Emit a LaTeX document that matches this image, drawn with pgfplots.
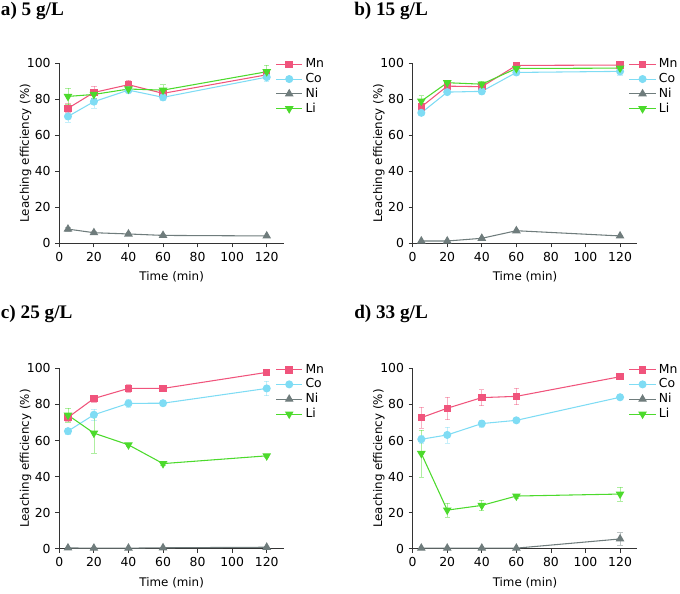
\documentclass[border=0pt]{standalone}
\usepackage{pgfplots}
\pgfplotsset{compat=1.18}
\usepackage{fontspec}
\setmainfont{DejaVu Sans}
\newfontfamily\titlefont{Liberation Serif}
\definecolor{mn}{HTML}{F0547C}
\definecolor{co}{HTML}{7FDCF4}
\definecolor{ni}{HTML}{6F7C7C}
\definecolor{li}{HTML}{4CDA2C}
\pgfplotsset{
  panel/.style={
    scale only axis, width=168.5pt, height=135.2pt,
    xmin=0, xmax=130, ymin=0, ymax=100,
    axis lines*=left, axis line style={black!80, line width=0.6pt},
    tick align=outside, major tick length=3pt,
    tick style={black!80, line width=0.6pt},
    xtick={0,20,40,60,80,100,120}, ytick={0,20,40,60,80,100},
    /pgf/number format/assume math mode=true,
    tick label style={font=\fontsize{9.3}{11}\selectfont},
    label style={font=\fontsize{8.9}{11}\selectfont},
    xlabel={Time (min)}, ylabel={Leaching efficiency (\%)},
    xlabel style={at={(axis description cs:0.5,-0.187)}, anchor=center},
    ylabel style={at={(axis description cs:-0.15,0.5)}, anchor=center},
    clip=false,
    legend style={draw=none, fill=none, at={(1,1)}, anchor=north west,
      xshift=-9.5pt, yshift=7.3pt, font=\fontsize{9.3}{11}\selectfont, row sep=-1.4pt},
    legend image code/.code={%
      \draw[line width=0.8pt, mark repeat=2,mark phase=2] plot coordinates {(0cm,0cm) (0.345cm,0cm) (0.69cm,0cm)};},
    legend cell align=left,
    every axis plot/.append style={line width=0.8pt},
    error bars/y dir=both, error bars/y explicit,
    error bars/error bar style={line width=0.5pt, opacity=0.45},
    error bars/error mark options={rotate=90, mark size=2pt, line width=0.5pt},
  },
  pmn/.style={color=mn, mark=square*, mark size=2.4pt, mark options={fill=mn}},
  pco/.style={color=co, mark=*, mark size=2.6pt, mark options={fill=co}},
  pni/.style={color=ni, mark=triangle*, mark size=3pt, mark options={fill=ni}},
  pli/.style={color=li, mark=triangle*, mark size=3pt, mark options={fill=li, rotate=180}},
}
\begin{document}
\begin{tikzpicture}
\useasboundingbox (0pt,0pt) rectangle (510pt,-444.75pt);
\node[anchor=base west, inner sep=0pt, font=\titlefont\bfseries\fontsize{14.4}{16}\selectfont] at (0.5pt,-11.5pt) {a) 5 g/L};
\node[anchor=base west, inner sep=0pt, font=\titlefont\bfseries\fontsize{14.4}{16}\selectfont] at (265.5pt,-11.5pt) {b) 15 g/L};
\node[anchor=base west, inner sep=0pt, font=\titlefont\bfseries\fontsize{14.4}{16}\selectfont] at (0.5pt,-239pt) {c) 25 g/L};
\node[anchor=base west, inner sep=0pt, font=\titlefont\bfseries\fontsize{14.4}{16}\selectfont] at (265.5pt,-239pt) {d) 33 g/L};

% a) 5 g/L
\begin{axis}[panel, at={(44.5pt,-182.5pt)}, anchor=south west]
\addplot[pmn] coordinates {(5,74.9)+-(0,2.5) (20,83.7)+-(0,3.5) (40,88)+-(0,2.5) (60,83.2)+-(0,2) (120,93.5)+-(0,2)};
\addplot[pco] coordinates {(5,70.4)+-(0,3) (20,78.6)+-(0,3.5) (40,85)+-(0,2) (60,81)+-(0,1.5) (120,92.2)+-(0,2.5)};
\addplot[pni] coordinates {(5,7.9)+-(0,1) (20,5.9)+-(0,0.8) (40,5.2)+-(0,0.8) (60,4.4)+-(0,0.6) (120,4.1)+-(0,0.6)};
\addplot[pli] coordinates {(5,81.5)+-(0,4.5) (20,82.6)+-(0,2) (40,85.6)+-(0,2) (60,85)+-(0,3) (120,95.2)+-(0,3.7)};
\legend{Mn,Co,Ni,Li}
\end{axis}

% b) 15 g/L
\begin{axis}[panel, at={(309.5pt,-182.5pt)}, anchor=south west]
\addplot[pmn] coordinates {(5,75.7)+-(0,2) (20,87.2)+-(0,1.5) (40,86.9)+-(0,1.5) (60,98.7)+-(0,1) (120,98.9)+-(0,1)};
\addplot[pco] coordinates {(5,72.4)+-(0,1.5) (20,83.9)+-(0,1.5) (40,84.3)+-(0,1.5) (60,94.8)+-(0,1) (120,95.4)+-(0,2)};
\addplot[pni] coordinates {(5,1.3)+-(0,0.5) (20,1.3)+-(0,0.5) (40,2.8)+-(0,0.6) (60,7)+-(0,0.8) (120,4.1)+-(0,0.6)};
\addplot[pli] coordinates {(5,78.9)+-(0,3) (20,89.1)+-(0,1.5) (40,88.3)+-(0,1.5) (60,97)+-(0,1) (120,97.2)+-(0,1)};
\legend{Mn,Co,Ni,Li}
\end{axis}

% c) 25 g/L
\begin{axis}[panel, at={(44.5pt,-411.5pt)}, anchor=south west]
\addplot[pmn] coordinates {(5,72.8)+-(0,2) (20,83.3)+-(0,2) (40,88.9)+-(0,2) (60,88.9)+-(0,1) (120,97.8)+-(0,1)};
\addplot[pco] coordinates {(5,65.2)+-(0,1.5) (20,74.3)+-(0,3) (40,80.6)+-(0,2) (60,80.7)+-(0,1) (120,88.9)+-(0,4)};
\addplot[pni] coordinates {(5,0.4)+-(0,0.2) (20,0.3)+-(0,0.2) (40,0.3)+-(0,0.2) (60,0.5)+-(0,0.2) (120,0.8)+-(0,0.3)};
\addplot[pli] coordinates {(5,74.1)+-(0,4) (20,64.1)+-(0,11) (40,57.6)+-(0,1) (60,47.2)+-(0,1) (120,51.5)+-(0,1)};
\legend{Mn,Co,Ni,Li}
\end{axis}

% d) 33 g/L
\begin{axis}[panel, at={(309.5pt,-411.5pt)}, anchor=south west]
\addplot[pmn] coordinates {(5,72.7)+-(0,5.9) (20,77.9)+-(0,6.3) (40,83.8)+-(0,4.4) (60,84.5)+-(0,4.7) (120,95.4)+-(0,1)};
\addplot[pco] coordinates {(5,60.7)+-(0,2) (20,63.1)+-(0,4.4) (40,69.4)+-(0,2) (60,71.2)+-(0,1) (120,84)+-(0,1)};
\addplot[pni] coordinates {(5,0.3)+-(0,0.2) (20,0.3)+-(0,0.2) (40,0.3)+-(0,0.2) (60,0.3)+-(0,0.2) (120,5.4)+-(0,3.5)};
\addplot[pli] coordinates {(5,52.8)+-(0,13) (20,21.4)+-(0,4) (40,24)+-(0,3) (60,29.2)+-(0,1) (120,30.3)+-(0,4)};
\legend{Mn,Co,Ni,Li}
\end{axis}
\end{tikzpicture}
\end{document}
